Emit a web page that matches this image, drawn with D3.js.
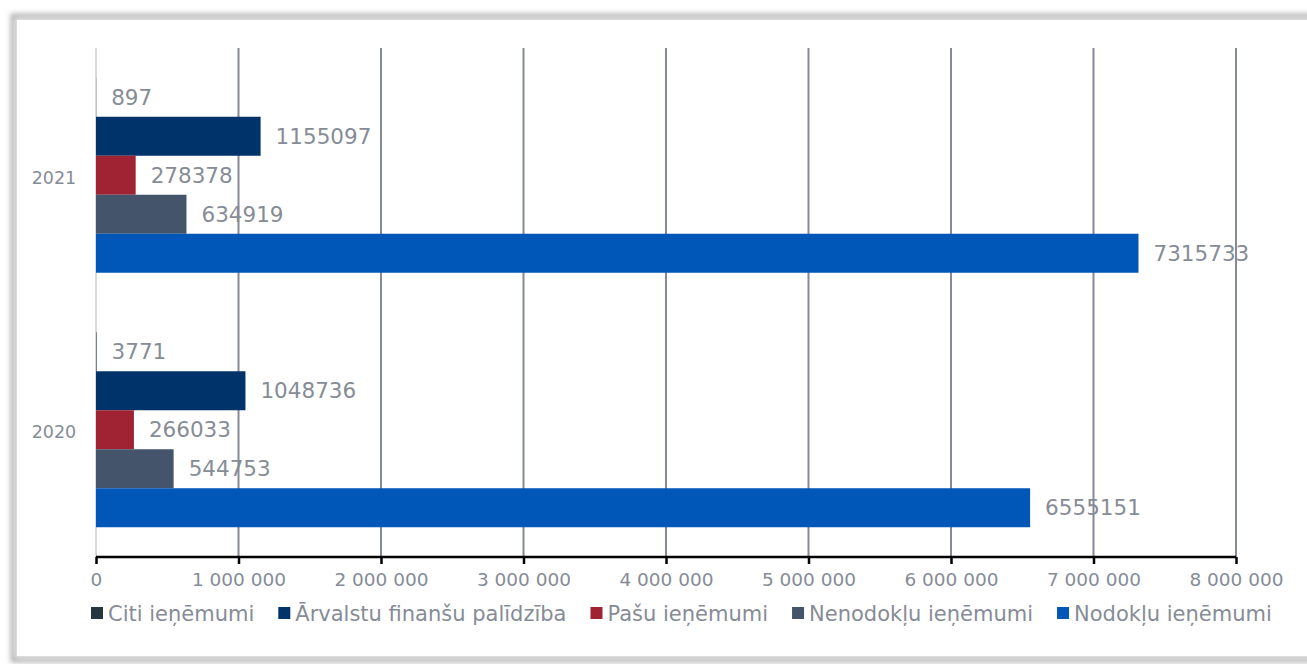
<!DOCTYPE html>
<meta charset="utf-8">
<style>
body { margin: 0; background: #fff; font-family: 'DejaVu Sans', Verdana, sans-serif; }
svg { display: block; }
.tick text, .val, .ylab, .leg { fill: #868c96; }
</style>
<body>
<div id="chart"></div>
<script src="https://cdn.jsdelivr.net/npm/d3@7"></script>
<script>
// data
var years = ['2021', '2020'];
var series = ['Citi ieņēmumi', 'Ārvalstu finanšu palīdzība', 'Pašu ieņēmumi', 'Nenodokļu ieņēmumi', 'Nodokļu ieņēmumi'];
var colors = ['#263640', '#003369', '#a02334', '#44546a', '#0057b8'];
var values2021 = [897, 1155097, 278378, 634919, 7315733];
var values2020 = [3771, 1048736, 266033, 544753, 6555151];
var xTicks = [0, 1000000, 2000000, 3000000, 4000000, 5000000, 6000000, 7000000, 8000000];

var byYear = { '2021': values2021, '2020': values2020 };

var W = 1307, H = 664;
var svg = d3.select('#chart').append('svg')
    .attr('width', W)
    .attr('height', H);

// frame with soft shadow
var defs = svg.append('defs');
var f = defs.append('filter').attr('id', 'sh').attr('x', '-5%').attr('y', '-5%').attr('width', '110%').attr('height', '110%');
f.append('feGaussianBlur').attr('stdDeviation', 2.5);

svg.append('rect')
    .attr('x', 13).attr('y', 16).attr('width', 1310).attr('height', 644)
    .attr('fill', 'none').attr('stroke', '#b4b4b4').attr('stroke-width', 5)
    .attr('filter', 'url(#sh)');
svg.append('rect')
    .attr('x', 16).attr('y', 19).attr('width', 1310).attr('height', 638)
    .attr('fill', '#fff').attr('stroke', '#d0d0d0').attr('stroke-width', 1.5);

var x = d3.scaleLinear().domain([0, 8000000]).range([96, 1236]);
var y = d3.scaleBand().domain(years).range([48, 557]).padding(0);
var yi = d3.scaleBand().domain(series).range([0, y.bandwidth()]).paddingInner(0).paddingOuter(0.763);

// gridlines
svg.append('g').selectAll('line')
    .data(xTicks)
  .enter().append('line')
    .attr('x1', function(d) { return x(d); })
    .attr('x2', function(d) { return x(d); })
    .attr('y1', 48).attr('y2', 557)
    .attr('stroke', function(d) { return d === 0 ? '#d9d9d9' : '#868a96'; })
    .attr('stroke-width', 2);

// bars
years.forEach(function(yr) {
    var g = svg.append('g').attr('transform', 'translate(0,' + y(yr) + ')');
    var vals = byYear[yr];
    g.selectAll('rect')
        .data(series)
      .enter().append('rect')
        .attr('x', x(0))
        .attr('y', function(d) { return yi(d); })
        .attr('width', function(d, i) { return x(vals[i]) - x(0); })
        .attr('height', yi.bandwidth())
        .attr('fill', function(d, i) { return colors[i]; });
    g.selectAll('text')
        .data(series)
      .enter().append('text')
        .attr('class', 'val')
        .attr('x', function(d, i) { return x(vals[i]) + 15; })
        .attr('y', function(d) { return yi(d) + yi.bandwidth() / 2; })
        .attr('dy', '0.36em')
        .style('font-size', '21.5px')
        .text(function(d, i) { return vals[i]; });
});

// year labels
svg.append('g').selectAll('text')
    .data(years)
  .enter().append('text')
    .attr('class', 'ylab')
    .attr('x', 54)
    .attr('y', function(d) { return y(d) + y.bandwidth() / 2 + 2; })
    .attr('dy', '0.36em')
    .attr('text-anchor', 'middle')
    .style('font-size', '17.5px')
    .text(function(d) { return d; });

// x axis
var xAxis = d3.axisBottom(x)
    .tickValues(xTicks)
    .tickSize(7)
    .tickPadding(9)
    .tickFormat(function(d) { return d3.format(',')(d).replace(/,/g, ' '); });

var ax = svg.append('g')
    .attr('transform', 'translate(0,557)')
    .call(xAxis);
ax.select('.domain').attr('stroke', '#000').attr('stroke-width', 2.5).attr('d', 'M96,0H1236');
ax.selectAll('.tick line').attr('stroke', '#000').attr('stroke-width', 2.5);
ax.selectAll('.tick text').style('font-size', '18.5px').style('font-family', "'DejaVu Sans', Verdana, sans-serif");

// legend
var lg = svg.append('g').attr('transform', 'translate(91,613)');
var cx = 0;
series.forEach(function(s, i) {
    var it = lg.append('g').attr('transform', 'translate(' + cx + ',0)');
    it.append('rect').attr('x', 0).attr('y', -6).attr('width', 12).attr('height', 12).attr('fill', colors[i]);
    var t = it.append('text').attr('class', 'leg')
        .attr('x', 17).attr('y', 0).attr('dy', '0.36em')
        .style('font-size', '21px')
        .text(s);
    cx += 17 + t.node().getComputedTextLength() + 24;
});
</script>
</body>
